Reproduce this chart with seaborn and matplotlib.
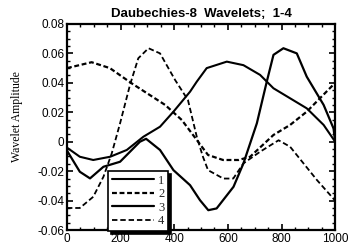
import numpy as np
import pandas as pd
import matplotlib
matplotlib.use("Agg")
import matplotlib.pyplot as plt
import seaborn as sns
from matplotlib.ticker import MultipleLocator

# ---- data ----
x1 = [0, 48, 98, 161, 223, 285, 347, 397, 459, 484, 521, 596, 658, 720, 770, 832, 894, 957, 1000]
y1 = [-0.004, -0.0102, -0.0124, -0.0102, -0.0056, 0.0034, 0.0102, 0.0204, 0.034, 0.0408, 0.050,
      0.0544, 0.052, 0.0454, 0.0363, 0.0295, 0.0227, 0.0114, 0.0]

x2 = [0, 92, 160, 241, 366, 428, 489, 526, 582, 640, 683, 770, 832, 894, 1000]
y2 = [0.050, 0.054, 0.050, 0.0397, 0.025, 0.0148, 0.0, -0.009, -0.0124, -0.0124, -0.0102,
      0.0046, 0.0114, 0.0204, 0.040]

x3 = [0, 48, 86, 136, 198, 235, 272, 295, 347, 397, 459, 496, 527, 558, 621, 658, 708, 745,
      770, 807, 857, 894, 957, 994, 1000]
y3 = [-0.006, -0.0204, -0.0249, -0.017, -0.0136, -0.0068, 0.0, 0.002, -0.0056, -0.0193, -0.0295,
      -0.0397, -0.0465, -0.0453, -0.0306, -0.0147, 0.0125, 0.0408, 0.059, 0.0635, 0.060, 0.0442,
      0.025, 0.009, 0.0]

x4 = [0, 48, 98, 136, 167, 198, 235, 266, 304, 347, 403, 451, 484, 507, 526, 583, 620, 658,
      720, 789, 832, 932, 1000]
y4 = [-0.045, -0.045, -0.0374, -0.0238, -0.0079, 0.0125, 0.0386, 0.0567, 0.0635, 0.060, 0.042,
      0.0284, 0.0034, -0.0102, -0.0193, -0.025, -0.025, -0.0147, -0.0068, 0.001, -0.0034,
      -0.026, -0.040]

labels = ["1", "2", "3", "4"]
title = "Daubechies-8  Wavelets;  1-4"
ylabel = "Wavelet Amplitude"

series = [(x1, y1), (x2, y2), (x3, y3), (x4, y4)]
df = pd.concat([pd.DataFrame({"x": xs, "y": ys, "wavelet": lab})
                for (xs, ys), lab in zip(series, labels)], ignore_index=True)

# ---- styling ----
sns.set_theme(style="ticks")
plt.rcParams["font.family"] = ["Liberation Sans", "DejaVu Sans"]

fig = plt.figure(figsize=(3.6, 2.52), dpi=100)
ax = fig.add_axes([0.186, 0.087, 0.745, 0.818])

styles = {
    "1": dict(linestyle="-", linewidth=1.5),
    "2": dict(linestyle=(0, (2.2, 1.2)), linewidth=1.6),
    "3": dict(linestyle="-", linewidth=1.6),
    "4": dict(linestyle=(0, (3.0, 1.6)), linewidth=1.3),
}
for lab in labels:
    sub = df[df["wavelet"] == lab]
    sns.lineplot(data=sub, x="x", y="y", ax=ax, color="black", label=lab,
                 sort=False, estimator=None, **styles[lab])

ax.set_xlim(0, 1000)
ax.set_ylim(-0.06, 0.08)
ax.xaxis.set_major_locator(MultipleLocator(200))
ax.xaxis.set_minor_locator(MultipleLocator(50))
ax.yaxis.set_major_locator(MultipleLocator(0.02))
ax.yaxis.set_minor_locator(MultipleLocator(0.005))
ax.set_yticks([-0.06, -0.04, -0.02, 0, 0.02, 0.04, 0.06, 0.08])
ax.set_yticklabels(["-0.06", "-0.04", "-0.02", "0", "0.02", "0.04", "0.06", "0.08"])
ax.tick_params(which="both", direction="in", top=True, right=True, color="black",
               labelsize=8.5, labelcolor="black")
ax.tick_params(which="major", length=4, width=1.2, pad=2)
ax.tick_params(which="minor", length=2.2, width=1.0)
for s in ax.spines.values():
    s.set_linewidth(1.6)
    s.set_color("black")

ax.set_xlabel("")
ax.set_ylabel(ylabel, family=["Liberation Serif", "DejaVu Serif"], fontsize=8.5, color="black")
ax.yaxis.set_label_coords(-0.165, 0.55)
ax.set_title(title, fontsize=9.5, fontweight="bold", color="black", pad=5)

leg = ax.legend(loc="lower left", bbox_to_anchor=(0.153, -0.004), frameon=True,
                fancybox=False, framealpha=1, edgecolor="black",
                prop={"family": ["Liberation Serif", "DejaVu Serif"], "size": 9},
                handlelength=3.4, handletextpad=0.3, labelspacing=0.12,
                borderpad=0.3, borderaxespad=0,
                shadow={"ox": 2.5, "oy": -2.5, "facecolor": "black", "edgecolor": "black", "alpha": 1})
leg.get_frame().set_linewidth(1.2)

fig.savefig("out.png", dpi=100, facecolor="white")
